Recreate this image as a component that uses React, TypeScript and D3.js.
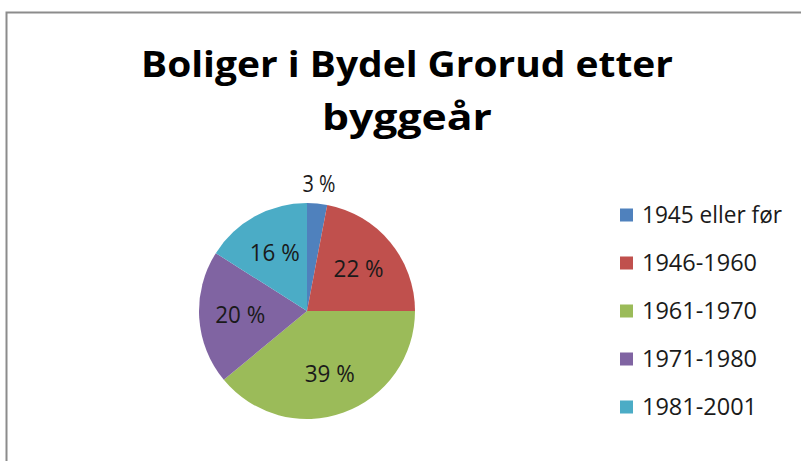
import React, { useRef, useEffect } from "react";
import * as d3 from "d3";

// data
const categories = ["1945 eller før", "1946-1960", "1961-1970", "1971-1980", "1981-2001"];
const shares = [3, 22, 39, 20, 16];
const colors = ["#4F81BD", "#C0504D", "#9BBB59", "#8064A2", "#4BACC6"];
const titleLines = ["Boliger i Bydel Grorud etter", "byggeår"];

export default function App() {
  const svgRef = useRef<SVGSVGElement>(null);

  useEffect(() => {
    if (!svgRef.current) return;
    const svg = d3.select(svgRef.current);
    svg.selectAll("*").remove();

    const width = 801;
    const height = 461;
    const font = "'Open Sans', 'DejaVu Sans', sans-serif";

    svg.append("rect").attr("width", width).attr("height", height).attr("fill", "#fff");

    // chart frame (only top and left edges show)
    svg.append("path")
      .attr("d", `M6.5,${height} V12.5 H${width}`)
      .attr("fill", "none")
      .attr("stroke", "#8c8c8c")
      .attr("stroke-width", 2);

    // title
    const titleWidths = [532, 170];
    svg.append("g")
      .selectAll("text")
      .data(titleLines)
      .join("text")
      .attr("x", 407)
      .attr("y", (_, i) => 77 + i * 53)
      .attr("text-anchor", "middle")
      .attr("font-family", font)
      .attr("font-weight", "bold")
      .attr("font-size", 35)
      .attr("fill", "#000")
      .attr("textLength", (_, i) => titleWidths[i])
      .attr("lengthAdjust", "spacingAndGlyphs")
      .text(d => d);

    // pie
    const cx = 307;
    const cy = 311;
    const r = 108;
    const pie = d3.pie<number>().sort(null).value(d => d);
    const arcs = pie(shares);
    const arc = d3.arc<d3.PieArcDatum<number>>().innerRadius(0).outerRadius(r);
    const g = svg.append("g").attr("transform", `translate(${cx},${cy})`);

    g.selectAll("path")
      .data(arcs)
      .join("path")
      .attr("d", arc)
      .attr("fill", (_, i) => colors[i]);

    const inner = d3.arc<d3.PieArcDatum<number>>().innerRadius(r * 0.62).outerRadius(r * 0.62);
    const outer = d3.arc<d3.PieArcDatum<number>>().innerRadius(r * 1.18).outerRadius(r * 1.18);

    g.selectAll("text.lbl")
      .data(arcs)
      .join("text")
      .attr("class", "lbl")
      .attr("transform", d => {
        const [x, y] = (d.data < 5 ? outer : inner).centroid(d);
        return `translate(${x},${y})`;
      })
      .attr("text-anchor", "middle")
      .attr("dy", "0.36em")
      .attr("font-family", font)
      .attr("font-size", 23)
      .attr("fill", "#1a1a1a")
      .attr("textLength", d => (d.data < 10 ? 33 : 50))
      .attr("lengthAdjust", "spacingAndGlyphs")
      .text(d => `${d.data} %`);

    // legend
    const legendY = d3.scalePoint<string>().domain(categories).range([215, 407]);
    const legendWidths = [140, 115, 115, 115, 115];
    const lg = svg.append("g")
      .selectAll("g")
      .data(categories)
      .join("g")
      .attr("transform", d => `translate(620,${legendY(d)})`);

    lg.append("rect")
      .attr("x", 0)
      .attr("y", -6.5)
      .attr("width", 13)
      .attr("height", 13)
      .attr("fill", (_, i) => colors[i]);

    lg.append("text")
      .attr("x", 22)
      .attr("y", 7.5)
      .attr("font-family", font)
      .attr("font-size", 23)
      .attr("fill", "#1a1a1a")
      .attr("textLength", (_, i) => legendWidths[i])
      .attr("lengthAdjust", "spacingAndGlyphs")
      .text(d => d);
  }, []);

  return (
    <svg
      ref={svgRef}
      width={801}
      height={461}
      viewBox="0 0 801 461"
      style={{ position: "absolute", left: 0, top: 0, display: "block" }}
    />
  );
}
